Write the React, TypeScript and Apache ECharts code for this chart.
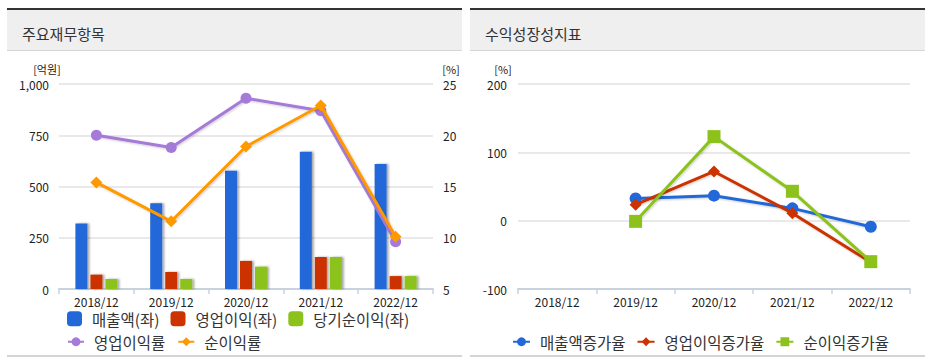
import React, { useEffect, useRef } from "react";
import * as echarts from "echarts";

const categories = ["2018/12", "2019/12", "2020/12", "2021/12", "2022/12"];
const sales = [320, 418, 577, 670, 610];
const operatingProfit = [70, 83, 137, 156, 63];
const netProfit = [49, 49, 109, 156, 63];
const operatingMargin = [20.0, 18.8, 23.6, 22.4, 9.6];
const netMargin = [15.4, 11.6, 18.9, 22.9, 10.1];
const salesGrowth = [null, 32.6, 36.6, 18, -8.8];
const opGrowth = [null, 23.4, 72, 11, -61];
const netGrowth = [null, -1, 123, 43, -60];

const FONT = '"Noto Sans CJK KR", "Noto Sans", sans-serif';
const BLUE = "#2268d8";
const RED = "#cc3300";
const GREEN = "#8cc21c";
const PURPLE = "#a57ad8";
const ORANGE = "#ff9900";

export default function App() {
  const ref = useRef<HTMLDivElement>(null);
  useEffect(() => {
    if (!ref.current) return;
    const chart = echarts.init(ref.current, undefined, { renderer: "svg" });
    const axisLabel = { color: "#222", fontSize: 12, fontFamily: FONT };
    const splitLine = { show: true, lineStyle: { color: "#e2e2e2", width: 1.5 } };
    const xAxisCommon = {
      type: "category" as const,
      data: categories,
      axisLine: { show: true, onZero: false, lineStyle: { color: "#c8d2de", width: 2 } },
      axisTick: { show: true, length: 5, lineStyle: { color: "#c8d2de", width: 1.5 } },
      axisLabel: { ...axisLabel, margin: 6 },
      splitLine: { show: false },
    };
    const barShadow = { shadowColor: "rgba(0,0,0,0.35)", shadowBlur: 2, shadowOffsetX: 2, shadowOffsetY: 0 };
    const lineShadow = { shadowColor: "rgba(0,0,0,0.2)", shadowBlur: 2, shadowOffsetX: 1, shadowOffsetY: 1 };
    const header = (x: number, w: number, title: string) => [
      { type: "rect", shape: { x, y: 8, width: w, height: 2 }, style: { fill: "#333" }, silent: true },
      { type: "rect", shape: { x, y: 10, width: w, height: 40 }, style: { fill: "#efefef" }, silent: true },
      { type: "rect", shape: { x, y: 50, width: w, height: 1 }, style: { fill: "#d6d6d6" }, silent: true },
      { type: "rect", shape: { x, y: 355, width: w, height: 2 }, style: { fill: "#d4d4d4" }, silent: true },
      {
        type: "text",
        x: x + 15,
        y: 33,
        style: { text: title, fill: "#333", fontSize: 15, fontFamily: FONT, verticalAlign: "middle", align: "left" },
      },
    ];
    const unit = (x: number, text: string) => ({
      type: "text",
      x,
      y: 69,
      style: { text, fill: "#222", fontSize: 11, fontFamily: FONT, align: "center", verticalAlign: "middle" },
    });
    const legendText = { color: "#333", fontSize: 15.5, fontFamily: FONT, padding: [0, 0, 0, 5] };
    chart.setOption({
      animation: false,
      backgroundColor: "#fff",
      graphic: [
        ...header(7, 455, "주요재무항목"),
        ...header(470, 455, "수익성장성지표"),
        unit(47, "[억원]"),
        unit(451, "[%]"),
        unit(503, "[%]"),
      ],
      grid: [
        { left: 59, right: 928 - 433, top: 84, bottom: 363 - 289 },
        { left: 518, right: 928 - 910, top: 84, bottom: 363 - 289 },
      ],
      xAxis: [
        { ...xAxisCommon, gridIndex: 0 },
        { ...xAxisCommon, gridIndex: 1 },
      ],
      yAxis: [
        {
          type: "value",
          gridIndex: 0,
          min: 0,
          max: 1000,
          interval: 250,
          axisLine: { show: false },
          axisTick: { show: false },
          axisLabel: {
            ...axisLabel,
            margin: 10,
            formatter: (v: number) => v.toLocaleString("en-US"),
          },
          splitLine,
        },
        {
          type: "value",
          gridIndex: 0,
          position: "right",
          min: 5,
          max: 25,
          interval: 5,
          axisLine: { show: false },
          axisTick: { show: false },
          axisLabel: { ...axisLabel, margin: 10 },
          splitLine: { show: false },
        },
        {
          type: "value",
          gridIndex: 1,
          min: -100,
          max: 200,
          interval: 100,
          axisLine: { show: false },
          axisTick: { show: false },
          axisLabel: { ...axisLabel, margin: 11 },
          splitLine,
        },
      ],
      legend: [
        {
          left: 62,
          top: 306,
          itemWidth: 15,
          itemHeight: 15,
          itemGap: 11,
          icon: "roundRect",
          textStyle: legendText,
          data: ["매출액(좌)", "영업이익(좌)", "당기순이익(좌)"],
        },
        {
          left: 62,
          top: 329,
          itemWidth: 16,
          itemHeight: 11,
          itemGap: 12,
          textStyle: legendText,
          data: ["영업이익률", "순이익률"],
        },
        {
          left: 507,
          top: 329,
          itemWidth: 17,
          itemHeight: 11,
          itemGap: 11,
          textStyle: legendText,
          data: ["매출액증가율", "영업이익증가율", "순이익증가율"],
        },
      ],
      series: [
        {
          name: "매출액(좌)",
          type: "bar",
          xAxisIndex: 0,
          yAxisIndex: 0,
          data: sales,
          barWidth: 12,
          barGap: "25%",
          itemStyle: { color: BLUE, ...barShadow },
        },
        {
          name: "영업이익(좌)",
          type: "bar",
          xAxisIndex: 0,
          yAxisIndex: 0,
          data: operatingProfit,
          barWidth: 12,
          barGap: "25%",
          itemStyle: { color: RED, ...barShadow },
        },
        {
          name: "당기순이익(좌)",
          type: "bar",
          xAxisIndex: 0,
          yAxisIndex: 0,
          data: netProfit,
          barWidth: 12,
          barGap: "25%",
          itemStyle: { color: GREEN, ...barShadow },
        },
        {
          name: "영업이익률",
          type: "line",
          xAxisIndex: 0,
          yAxisIndex: 1,
          data: operatingMargin,
          symbol: "circle",
          symbolSize: 11,
          lineStyle: { color: PURPLE, width: 3, ...lineShadow },
          itemStyle: { color: PURPLE },
          z: 3,
        },
        {
          name: "순이익률",
          type: "line",
          xAxisIndex: 0,
          yAxisIndex: 1,
          data: netMargin,
          symbol: "diamond",
          symbolSize: 12,
          lineStyle: { color: ORANGE, width: 3, ...lineShadow },
          itemStyle: { color: ORANGE },
          z: 4,
        },
        {
          name: "매출액증가율",
          type: "line",
          xAxisIndex: 1,
          yAxisIndex: 2,
          data: salesGrowth,
          symbol: "circle",
          symbolSize: 12,
          lineStyle: { color: BLUE, width: 3, ...lineShadow },
          itemStyle: { color: BLUE },
          z: 3,
        },
        {
          name: "영업이익증가율",
          type: "line",
          xAxisIndex: 1,
          yAxisIndex: 2,
          data: opGrowth,
          symbol: "diamond",
          symbolSize: 12,
          lineStyle: { color: RED, width: 3, ...lineShadow },
          itemStyle: { color: RED },
          z: 4,
        },
        {
          name: "순이익증가율",
          type: "line",
          xAxisIndex: 1,
          yAxisIndex: 2,
          data: netGrowth,
          symbol: "rect",
          symbolSize: 13,
          lineStyle: { color: GREEN, width: 3, ...lineShadow },
          itemStyle: { color: GREEN },
          z: 5,
        },
      ],
    });
    return () => chart.dispose();
  }, []);
  return (
    <div
      ref={ref}
      style={{ position: "fixed", left: 0, top: 0, width: 928, height: 363 }}
    />
  );
}
